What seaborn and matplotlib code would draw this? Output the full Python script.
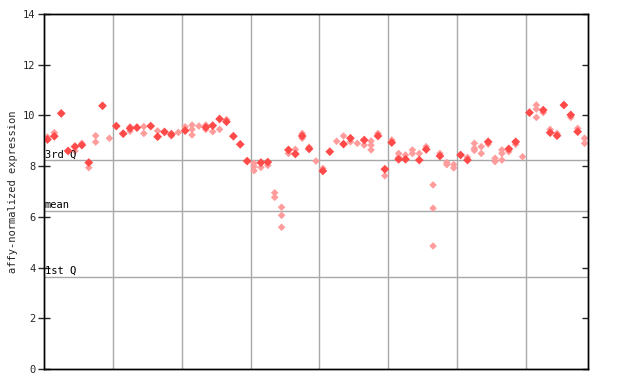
import numpy as np
import pandas as pd
import matplotlib
matplotlib.use("Agg")
import matplotlib.pyplot as plt
import seaborn as sns

# -----------------------------
# data
# -----------------------------
nan = np.nan
main_vals = [9.05, 9.18, 10.08, 8.6, 8.77, 8.83, 8.14, nan, 10.38, nan,
             9.58, 9.28, 9.49, 9.52, nan, 9.58, 9.16, 9.35, 9.25, nan,
             9.4, nan, nan, 9.53, 9.6, 9.86, 9.75, 9.18, 8.86, 8.2,
             nan, 8.14, 8.16, nan, nan, 8.64, 8.48, 9.19, 8.68, nan,
             7.81, 8.57, nan, 8.87, 9.1, nan, 9.03, nan, 9.19, 7.88,
             8.93, 8.27, 8.27, nan, 8.24, 8.66, nan, 8.4, nan, nan,
             8.44, 8.24, nan, nan, 8.96, nan, nan, 8.68, 8.96, nan,
             10.11, nan, 10.21, 9.32, 9.2, 10.41, 10.02, 9.36, nan]

rep_x = [0, 1, 4, 5, 6, 7, 7, 9, 12, 12, 14, 14, 16, 18, 18, 19,
         20, 21, 21, 21, 22, 23, 23, 24, 25, 26,
         30, 30, 30, 31, 32, 33, 33, 34, 34, 34, 35, 36, 37, 37, 38, 39,
         40, 42, 43, 44, 45, 46, 47, 47, 47, 48, 49,
         50, 51, 51, 52, 53, 53, 54, 55, 56, 56, 56, 57, 58, 58, 59, 59,
         61, 62, 62, 62, 63, 63, 64, 65, 65, 66, 66, 66, 67, 68, 69,
         71, 71, 71, 72, 73, 74, 76, 77, 78, 78]
rep_y = [9.15, 9.32, 8.6, 8.9, 7.94, 9.2, 8.95, 9.1, 9.55, 9.38, 9.56, 9.29, 9.39, 9.29, 9.19, 9.33,
         9.55, 9.62, 9.45, 9.23, 9.58, 9.62, 9.45, 9.36, 9.45, 9.84,
         8.11, 7.98, 7.82, 7.95, 8.03, 6.95, 6.77, 6.38, 6.06, 5.59, 8.5, 8.66, 9.29, 9.1, 8.75, 8.2,
         7.91, 8.98, 9.19, 8.96, 8.9, 8.83, 8.99, 8.83, 8.64, 9.29, 7.62,
         9.03, 8.5, 8.35, 8.44, 8.64, 8.5, 8.5, 8.77, 7.26, 6.34, 4.85, 8.5, 8.14, 8.06, 8.06, 7.93,
         8.35, 8.9, 8.7, 8.62, 8.77, 8.5, 8.87, 8.31, 8.18, 8.64, 8.5, 8.24, 8.57, 8.86, 8.37,
         10.41, 10.25, 9.92, 10.11, 9.45, 9.29, 9.92, 9.49, 9.1, 8.9]

q_labels = ["3rd Q", "mean", "1st Q"]
q_values = [8.24, 6.23, 3.63]

n = len(main_vals)
main_df = pd.DataFrame({"sample": np.arange(n), "value": main_vals}).dropna()
rep_df = pd.DataFrame({"sample": rep_x, "value": rep_y})

# -----------------------------
# plot
# -----------------------------
sns.set_style("white")
plt.rcParams["font.family"] = ["DejaVu Sans Mono", "DejaVu Sans"]

fig = plt.figure(figsize=(6.4, 3.84), dpi=100)
ax = fig.add_axes([44/640, 1 - 369/384, 544/640, 355/384])

for xv in np.arange(9.5, n, 10):
    ax.axvline(xv, color="#a8a8a8", lw=1, zorder=0)
for lab, qv in zip(q_labels, q_values):
    ax.axhline(qv, color="#a8a8a8", lw=1, zorder=0)
    ax.text(0.001, qv + 0.03, lab, transform=ax.get_yaxis_transform(),
            fontsize=7.5, ha="left", va="bottom", color="black")

sns.scatterplot(data=rep_df, x="sample", y="value", marker="D", s=15,
                color="#ff9c9c", edgecolor="none", ax=ax, zorder=2)
sns.scatterplot(data=main_df, x="sample", y="value", marker="D", s=20,
                color="#ff4a4a", edgecolor="none", ax=ax, zorder=3)

ax.set_xlim(-0.5, n - 0.5)
ax.set_ylim(0, 14)
ax.set_yticks(np.arange(0, 15, 2))
ax.set_xticks([])
ax.set_xlabel("")
ax.set_ylabel("affy-normalized expression", fontsize=7.5)
ax.tick_params(axis="y", labelsize=7.5, direction="inout", length=8, width=1,
               left=True, right=False, pad=2)

# right-hand ticks point inward only
ax2 = ax.twinx()
ax2.set_ylim(0, 14)
ax2.set_yticks(np.arange(0, 15, 2))
ax2.tick_params(axis="y", direction="in", length=4, width=1, labelright=False)

for a in (ax, ax2):
    for s in a.spines.values():
        s.set_color("black")
        s.set_linewidth(1)

plt.savefig("out.png", dpi=100)
